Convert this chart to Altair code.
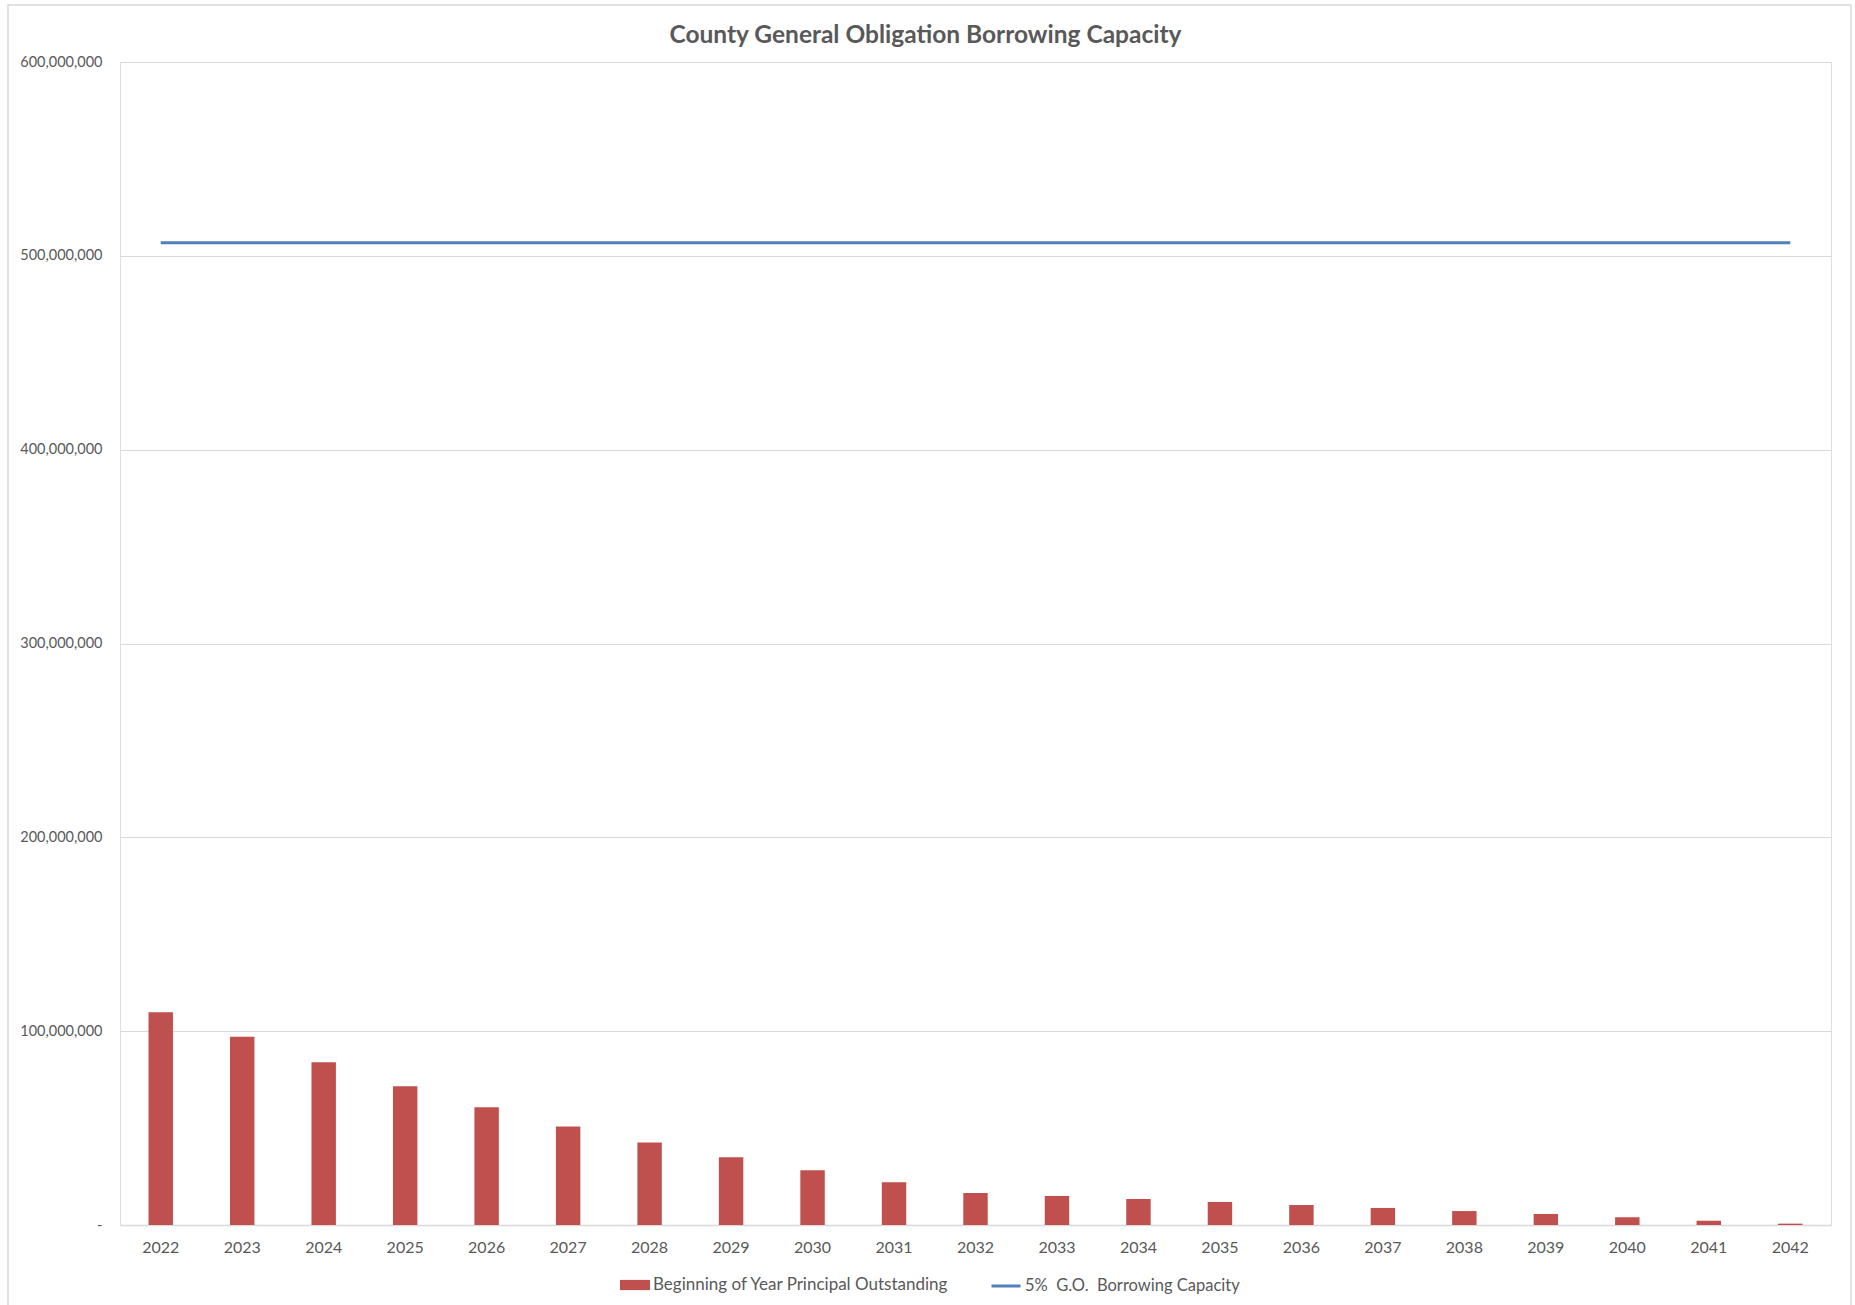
import altair as alt
import pandas as pd

years = [str(y) for y in range(2022, 2043)]
principal = [109.8, 97.1, 84.0, 71.6, 60.8, 50.8, 42.5, 34.9, 28.2, 22.0, 16.5,
             15.0, 13.4, 11.9, 10.3, 8.8, 7.2, 5.7, 4.0, 2.2, 0.7]
principal = [v * 1_000_000 for v in principal]
capacity = [506_700_000] * len(years)

bar_name = "Beginning of Year Principal Outstanding"
line_name = "5%\u00a0 G.O.\u00a0 Borrowing Capacity"
y_ticks = [0, 100_000_000, 200_000_000, 300_000_000, 400_000_000, 500_000_000, 600_000_000]

df = pd.DataFrame({"year": years, "principal": principal, "capacity": capacity,
                   "bar_series": bar_name, "line_series": line_name})

FONT = "Lato"
TXT = "#595959"
W, H = 1711, 1163

x = alt.X("year:N", title=None,
          scale=alt.Scale(paddingInner=0.7, paddingOuter=0.35),
          axis=alt.Axis(labelAngle=0, ticks=False, domain=True, domainColor="#D9D9D9",
                        domainWidth=1.5, labelPadding=14, labelFontSize=16,
                        labelColor=TXT, labelFont=FONT))

yscale = alt.Scale(domain=[0, 600_000_000], nice=False)

bars = alt.Chart(df).mark_bar(color="#C0504D").encode(
    x=x,
    y=alt.Y("principal:Q", title=None, scale=yscale,
            axis=alt.Axis(values=y_ticks, ticks=False, domain=False, grid=True,
                          gridColor="#D9D9D9", gridWidth=1.2, labelPadding=18,
                          labelFontSize=14.5, labelColor=TXT, labelFont=FONT,
                          labelExpr="datum.value == 0 ? '-' : format(datum.value, ',')")),
    color=alt.Color("bar_series:N",
                    scale=alt.Scale(domain=[bar_name], range=["#C0504D"]),
                    legend=alt.Legend(title=None, orient="none", legendX=500, legendY=1208,
                                      symbolType="M-1,-0.34H1V0.34H-1Z", symbolSize=900,
                                      symbolStrokeWidth=0, symbolOpacity=1, labelLimit=0,
                                      labelFontSize=17, labelColor=TXT, labelFont=FONT,
                                      labelOffset=3)),
)

line = alt.Chart(df).mark_line(strokeWidth=3).encode(
    x=x,
    y=alt.Y("capacity:Q", scale=yscale),
    color=alt.Color("line_series:N",
                    scale=alt.Scale(domain=[line_name], range=["#4F81BD"]),
                    legend=alt.Legend(title=None, orient="none", legendX=870, legendY=1208,
                                      symbolType="stroke", symbolSize=841,
                                      symbolStrokeWidth=3, labelLimit=0,
                                      labelFontSize=16.5, labelColor=TXT, labelFont=FONT,
                                      labelOffset=3)),
)

border = alt.Chart(df).mark_rect(fill=None, stroke="#D9D9D9", strokeWidth=1.5).encode(
    x=alt.value(-112), x2=alt.value(1731), y=alt.value(-57), y2=alt.value(1260)
).transform_filter("datum.year == '2022'")

chart = alt.layer(border, bars, line).resolve_scale(color="independent").resolve_legend(
    color="independent"
).properties(
    width=W, height=H,
    title=alt.TitleParams("County General Obligation Borrowing Capacity", fontSize=24.5,
                          font=FONT, fontWeight="bold", color=TXT, anchor="middle",
                          dx=-50, dy=64, offset=20),
    autosize=alt.AutoSizeParams(type="none"),
    padding={"left": 120, "top": 62, "right": 24, "bottom": 80},
).configure_view(stroke=None).configure(background="white")

chart.save("out.html", embed_options={"renderer": "svg", "actions": False})
